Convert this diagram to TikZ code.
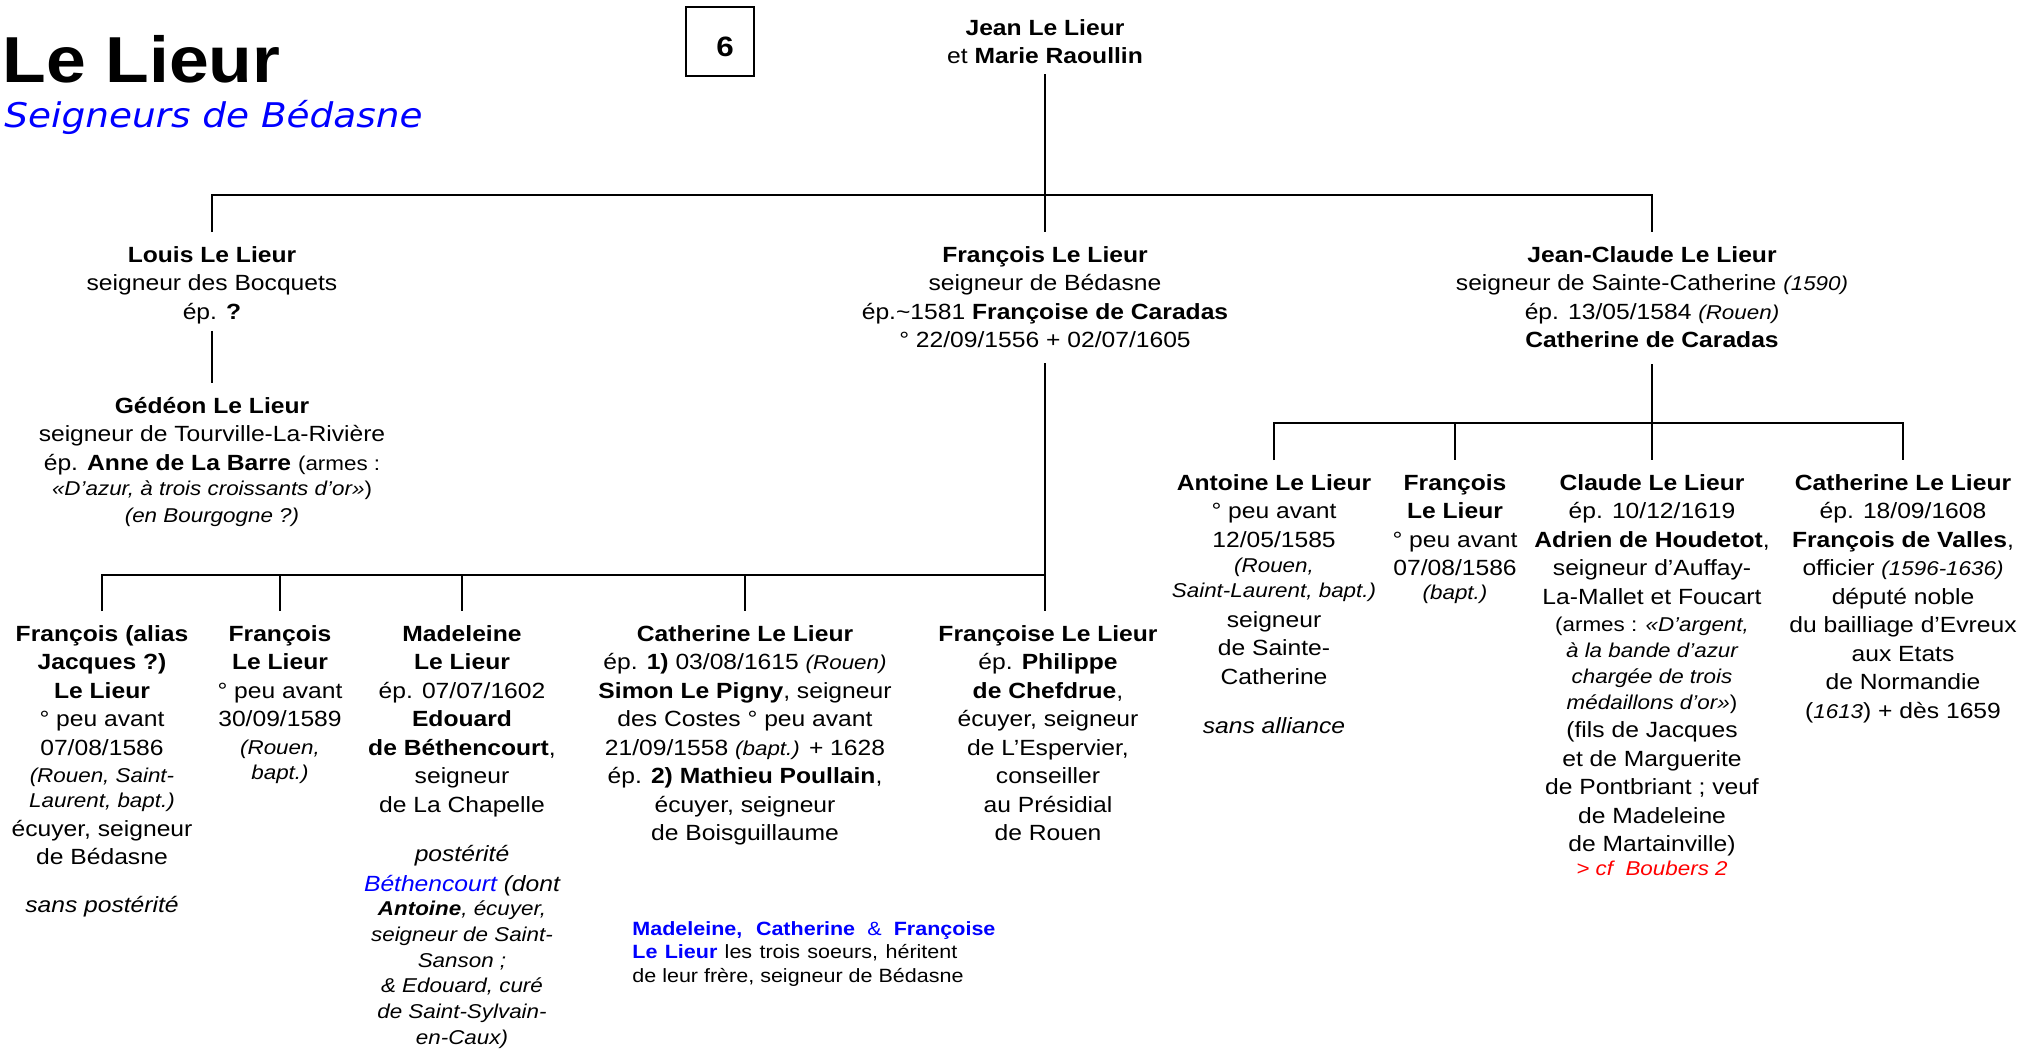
\documentclass[tikz,border=0pt]{standalone}
\usepackage{fontspec}
\setmainfont{Liberation Sans}[FakeStretch=1.12]
\newfontfamily\subfont{DejaVu Sans}[FakeStretch=1.1]
\newfontfamily\titlefont{Liberation Sans}[FakeStretch=1.1]
\newcommand\nf{\fontsize{11}{14.25}\selectfont}
\newcommand\sm{\fontsize{10}{14.25}\selectfont}
\newcommand\st{\rule{0pt}{12pt}}
\tikzset{
  person/.style={anchor=north, align=center, inner sep=0pt, font=\nf},
  conn/.style={line width=1pt, draw=black, line join=miter},
}
\begin{document}
\begin{tikzpicture}[x=0.5pt, y=-0.5pt]
\useasboundingbox (0,0) rectangle (2021,1048);
% title
\node[anchor=base west, inner sep=0pt, font=\titlefont\fontsize{32.5}{39}\selectfont\bfseries] (title) at (2,83) {Le Lieur};
\node[anchor=base west, inner sep=0pt, font=\subfont\itshape\fontsize{17}{20}\selectfont, text=blue] (subtitle) at (4,128) {Seigneurs de Bédasne};
\node[draw, line width=0.6pt, minimum width=34pt, minimum height=34.5pt, inner sep=0pt] (box6) at (720,41.5) {};
\node[inner sep=0pt, font=\fontsize{14}{16}\selectfont\bfseries] (six) at (725,47) {6};
% coordinates of bars
\coordinate (barA) at (0,195);
\coordinate (barB) at (0,575);
\coordinate (barC) at (0,423);
% generation 1
\node[person] (jean) at (1045,11) {\st\textbf{Jean Le Lieur}\\et \textbf{Marie Raoullin}};
% generation 2
\node[person] (louis) at (212,238) {\st\textbf{Louis Le Lieur}\\seigneur des Bocquets\\ép. \textbf{?}};
\node[person] (fr) at (1045,238) {\st\textbf{François Le Lieur}\\seigneur de Bédasne\\ép.\textasciitilde1581 \textbf{Françoise de Caradas}\\° 22/09/1556 + 02/07/1605};
\node[person] (jc) at (1652,238) {\st\textbf{Jean-Claude Le Lieur}\\seigneur de Sainte-Catherine {\sm\itshape(1590)}\\ép. 13/05/1584 {\sm\itshape(Rouen)}\\\textbf{Catherine de Caradas}};
% Gedeon
\node[person] (ged) at (212,389) {\st\textbf{Gédéon Le Lieur}\\seigneur de Tourville-La-Rivière\\ép. \textbf{Anne de La Barre} {\sm(armes :}\\[-1.75pt]{\sm\itshape«D’azur, à trois croissants d’or»\upshape)}\\[-0.75pt]{\sm\itshape(en Bourgogne ?)}};
% children of Francois
\node[person] (c1) at (102,617) {\st\textbf{François (alias}\\\textbf{Jacques ?)}\\\textbf{Le Lieur}\\° peu avant\\07/08/1586\\[-0.75pt]{\sm\itshape(Rouen, Saint-}\\[-1.75pt]{\sm\itshape Laurent, bapt.)}\\[0.25pt]écuyer, seigneur\\de Bédasne\\[9.75pt]{\itshape sans postérité}};
\node[person] (c2) at (280,617) {\st\textbf{François}\\\textbf{Le Lieur}\\° peu avant\\30/09/1589\\[-0.25pt]{\sm\itshape(Rouen,}\\[-1.75pt]{\sm\itshape bapt.)}};
\node[person] (c3) at (462,617) {\st\textbf{Madeleine}\\\textbf{Le Lieur}\\ép. 07/07/1602\\\textbf{Edouard}\\\textbf{de Béthencourt},\\seigneur\\de La Chapelle\\[10.25pt]{\itshape postérité}\\[0.75pt]{\itshape\color{blue}Béthencourt} {\itshape(dont}\\[-2.25pt]{\sm\itshape\textbf{Antoine}, écuyer,}\\[-1.35pt]{\sm\itshape seigneur de Saint-}\\[-1.35pt]{\sm\itshape Sanson ;}\\[-1.35pt]{\sm\itshape \& Edouard, curé}\\[-1.35pt]{\sm\itshape de Saint-Sylvain-}\\[-1.35pt]{\sm\itshape en-Caux)}};
\node[person] (c4) at (745,617) {\st\textbf{Catherine Le Lieur}\\ép. \textbf{1)} 03/08/1615 {\sm\itshape(Rouen)}\\\textbf{Simon Le Pigny}, seigneur\\des Costes ° peu avant\\21/09/1558 {\sm\itshape(bapt.)} + 1628\\ép. \textbf{2) Mathieu Poullain},\\écuyer, seigneur\\de Boisguillaume};
\node[person] (c5) at (1048,617) {\st\textbf{Françoise Le Lieur}\\ép. \textbf{Philippe}\\\textbf{de Chefdrue},\\écuyer, seigneur\\de L’Espervier,\\conseiller\\au Présidial\\de Rouen};
\node[anchor=north west, align=left, inner sep=0pt, font=\fontsize{9.6}{11.75}\selectfont] (note) at (632,911) {\st\makebox[181.5pt][s]{\color{blue}\bfseries Madeleine, Catherine {\mdseries\&} Françoise}\\\makebox[162.5pt][s]{{\color{blue}\bfseries Le Lieur} les trois soeurs, héritent}\\de leur frère, seigneur de Bédasne};
% children of Jean-Claude
\node[person] (ra) at (1274,466) {\st\textbf{Antoine Le Lieur}\\° peu avant\\12/05/1585\\[-1.75pt]{\sm\itshape(Rouen,}\\[-1.75pt]{\sm\itshape Saint-Laurent, bapt.)}\\[0.75pt]seigneur\\de Sainte-\\Catherine\\[10.25pt]{\itshape sans alliance}};
\node[person] (rb) at (1455,466) {\st\textbf{François}\\\textbf{Le Lieur}\\° peu avant\\07/08/1586\\[-2.25pt]{\sm\itshape(bapt.)}};
\node[person] (rc) at (1652,466) {\st\textbf{Claude Le Lieur}\\ép. 10/12/1619\\\textbf{Adrien de Houdetot},\\seigneur d’Auffay-\\La-Mallet et Foucart\\[-0.75pt]{\sm(armes : \itshape«D’argent,}\\[-1.25pt]{\sm\itshape à la bande d’azur}\\[-1.25pt]{\sm\itshape chargée de trois}\\[-1.25pt]{\sm\itshape médaillons d’or»\upshape)}\\(fils de Jacques\\et de Marguerite\\de Pontbriant ; veuf\\de Madeleine\\de Martainville)\\[-2.25pt]{\sm\itshape\color{red}> cf\ \ Boubers 2}};
\node[person] (rd) at (1903,466) {\st\textbf{Catherine Le Lieur}\\ép. 18/09/1608\\\textbf{François de Valles},\\officier {\sm\itshape(1596-1636)}\\député noble\\du bailliage d’Evreux\\aux Etats\\de Normandie\\({\sm\itshape1613}) + dès 1659};
% connectors
\draw[conn] ([yshift=-4.75pt]jean.south) -- ([yshift=3pt]fr.north);
\draw[conn] ([yshift=3pt]louis.north) -- (louis.north |- barA) -- (jc.north |- barA) -- ([yshift=3pt]jc.north);
\draw[conn] ([yshift=-3.2pt]louis.south) -- ([yshift=3pt]ged.north);
\draw[conn] ([yshift=-7.25pt]fr.south) -- ([yshift=3pt]fr.south |- c5.north);
\draw[conn] ([yshift=3pt]c1.north) -- (c1.north |- barB) -- (fr.south |- barB);
\draw[conn] (c2.north |- barB) -- ([yshift=3pt]c2.north);
\draw[conn] (c3.north |- barB) -- ([yshift=3pt]c3.north);
\draw[conn] (c4.north |- barB) -- ([yshift=3pt]c4.north);
\draw[conn] ([yshift=-7.75pt]jc.south) -- ([yshift=3pt]rc.north);
\draw[conn] ([yshift=3pt]ra.north) -- (ra.north |- barC) -- (rd.north |- barC) -- ([yshift=3pt]rd.north);
\draw[conn] (rb.north |- barC) -- ([yshift=3pt]rb.north);
\end{tikzpicture}
\end{document}
